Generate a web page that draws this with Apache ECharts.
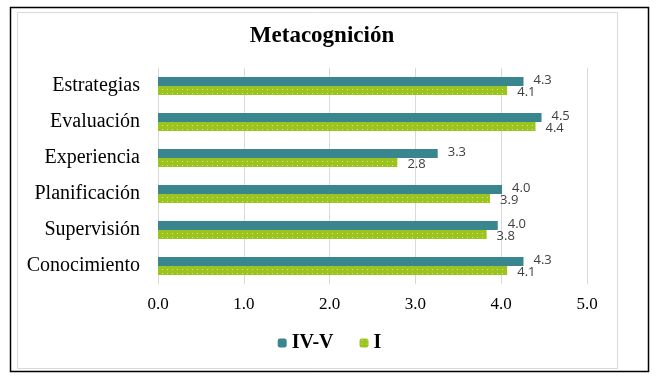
<!DOCTYPE html>
<html><head><meta charset="utf-8">
<script src="https://cdn.jsdelivr.net/npm/echarts@6/dist/echarts.min.js"></script>
<style>html,body{margin:0;padding:0;background:#fff}#c{width:659px;height:378px}</style>
</head><body><div id="c"></div>
<script>
const categories = ['Estrategias','Evaluación','Experiencia','Planificación','Supervisión','Conocimiento'];
const seriesNames = ['IV-V','I'];
const valuesIVV = [4.26, 4.47, 3.26, 4.01, 3.96, 4.26];
const valuesI = [4.07, 4.40, 2.79, 3.87, 3.83, 4.07];
const xTicks = [0, 1, 2, 3, 4, 5];

function makePattern(){
  const c = document.createElement('canvas');
  c.width = 5; c.height = 4;
  const g = c.getContext('2d');
  g.fillStyle = '#9CC41E'; g.fillRect(0,0,5,4);
  g.fillStyle = 'rgba(255,255,255,0.55)'; g.fillRect(2,1,1,1);
  return c;
}
const chart = echarts.init(document.getElementById('c'), null, {renderer:'canvas'});
const serif = '"Liberation Serif","Times New Roman",serif';
const lblFont = '"Open Sans",sans-serif';
chart.setOption({
  animation:false,
  title:{text:'Metacognición', left:317, top:20, textAlign:'center',
    textStyle:{fontFamily:serif, fontWeight:'bold', fontSize:23, color:'#000'}},
  legend:{bottom:20, left:'center', itemWidth:9, itemHeight:9, itemGap:26,
    textStyle:{fontFamily:serif, fontWeight:'bold', fontSize:20, color:'#000'},
    data:seriesNames},
  grid:{left:158, right:72, top:68, bottom:94},
  xAxis:{type:'value', min:xTicks[0], max:xTicks[xTicks.length-1], interval:1,
    axisLine:{show:false}, axisTick:{show:false},
    splitLine:{lineStyle:{color:'#d9d9d9'}},
    axisLabel:{formatter:v=>v.toFixed(1), fontFamily:serif, fontSize:17, color:'#000', margin:12}},
  yAxis:{type:'category', data:categories, inverse:true,
    axisLine:{lineStyle:{color:'#d9d9d9'}}, axisTick:{show:false},
    axisLabel:{fontFamily:serif, fontSize:20, color:'#000', margin:18}},
  graphic:[
    {type:'rect', shape:{x:10.5,y:7.5,width:638,height:364}, style:{fill:null, stroke:'#000', lineWidth:1.5}, silent:true},
    {type:'rect', shape:{x:17.5,y:12.5,width:600,height:356}, style:{fill:null, stroke:'#d9d9d9', lineWidth:1}, silent:true}
  ],
  series:[
    {name:seriesNames[0], type:'bar', data:valuesIVV, barWidth:9, barGap:'0%', barCategoryGap:'50%',
      itemStyle:{color:'#3A868E'},
      label:{show:true, position:'right', distance:10, offset:[0,-1], formatter:p=>p.value.toFixed(1),
        fontFamily:lblFont, fontSize:13, color:'#404040'}},
    {name:seriesNames[1], type:'bar', data:valuesI, barWidth:9, barGap:'0%',
      itemStyle:{color:{image:makePattern(), repeat:'repeat'}},
      label:{show:true, position:'right', distance:10, offset:[0,2], formatter:p=>p.value.toFixed(1),
        fontFamily:lblFont, fontSize:13, color:'#404040'}}
  ]
});
</script></body></html>
